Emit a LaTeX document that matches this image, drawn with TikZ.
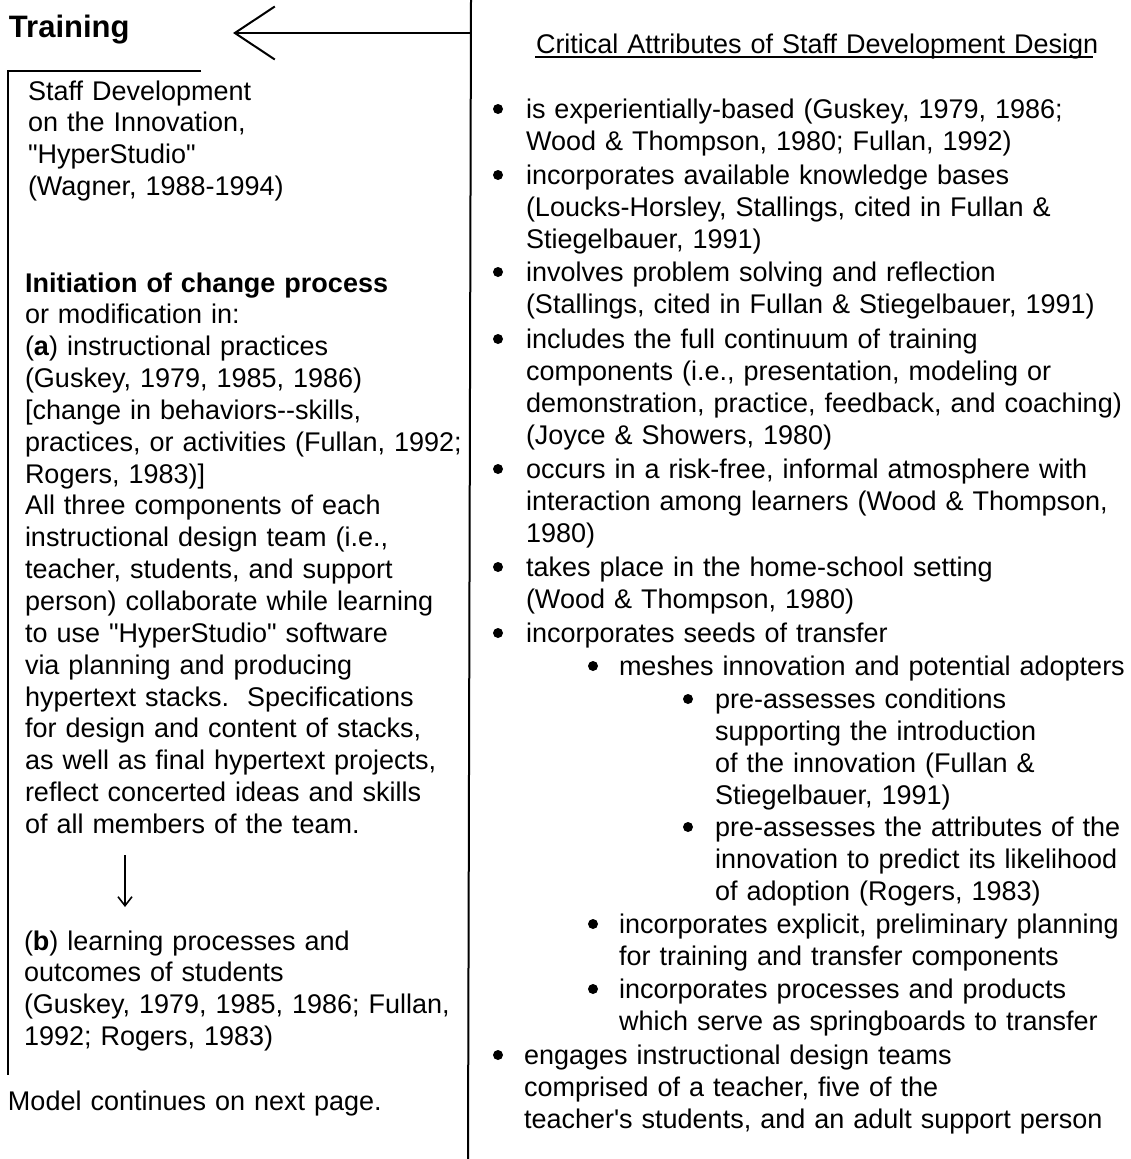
\documentclass[tikz,border=0pt]{standalone}
\usepackage{fontspec}
\setmainfont{Liberation Sans}[Ligatures=TeXOff]
\usetikzlibrary{arrows.meta}

\begin{document}
\begin{tikzpicture}[x=1pt,y=-1pt,line width=2pt,
  txt/.style={anchor=base west,inner sep=0pt,align=left,text width=440pt,font=\fontsize{27}{31.85}\selectfont},
  rtxt/.style={anchor=base west,inner sep=0pt,align=left,text width=640pt,font=\fontsize{27}{32.2}\selectfont},
  dot/.style={circle,fill=black,draw=none,inner sep=0pt,minimum size=10pt,yshift=9pt}]
  \useasboundingbox (0,0) rectangle (1131,1159);

  % frame lines
  \coordinate (top) at (471,0);
  \coordinate (bottom) at (468,1159);
  \draw (top) -- (bottom);
  \draw (201,71) -- (8,71) -- (8,1075);

  % left column
  \node[anchor=base west,inner sep=0pt,font=\bfseries\fontsize{31}{36}\selectfont] (training) at (8,37) {Training};
  \coordinate (split) at (471,33);
  \coordinate (tip) at (233,33);
  \draw[-{Straight Barb[length=40pt,width=53pt]}] (split) -- (tip);

  \node[txt] (sd) at (27,100) {Staff Development\\on the Innovation,\\"HyperStudio"\\(Wagner, 1988-1994)};
  \node[txt] (init) at (24,292) {\textbf{Initiation of change process}\\
    or modification in:\\
    (\textbf{a}) instructional practices\\
    (Guskey, 1979, 1985, 1986)\\
    {[}change in behaviors--skills,\\
    practices, or activities (Fullan, 1992;\\
    Rogers, 1983)]\\
    All three components of each\\
    instructional design team (i.e.,\\
    teacher, students, and support\\
    person) collaborate while learning\\
    to use "HyperStudio" software\\
    via planning and producing\\
    hypertext stacks.\ \ Specifications\\
    for design and content of stacks,\\
    as well as final hypertext projects,\\
    reflect concerted ideas and skills\\
    of all members of the team.};
  \coordinate (d1) at (125,855);
  \coordinate (d2) at (125,907);
  \draw[line width=1.6pt,-{Straight Barb[length=9pt,width=14pt]}] (d1) -- (d2);
  \node[txt] (outcomes) at (23,950) {(\textbf{b}) learning processes and\\
    outcomes of students\\
    (Guskey, 1979, 1985, 1986; Fullan,\\
    1992; Rogers, 1983)};
  \node[txt] (next) at (7,1110) {Model continues on next page.};

  % right column
  \node[rtxt] (title) at (535,53) {Critical Attributes of Staff Development Design};
  \draw[line width=1.5pt] ([yshift=-4pt]title.base west) -- ++(558,0);

  \node[dot] (b1) at (498,118) {};
  \node[rtxt] (a1) at (525,118) {is experientially-based (Guskey, 1979, 1986;\\
    Wood \& Thompson, 1980; Fullan, 1992)};
  \node[dot] (b2) at (498,184) {};
  \node[rtxt] (a2) at (525,184) {incorporates available knowledge bases\\
    (Loucks-Horsley, Stallings, cited in Fullan \&\\
    Stiegelbauer, 1991)};
  \node[dot] (b3) at (498,281) {};
  \node[rtxt] (a3) at (525,281) {involves problem solving and reflection\\
    (Stallings, cited in Fullan \& Stiegelbauer, 1991)};
  \node[dot] (b4) at (498,348) {};
  \node[rtxt] (a4) at (525,348) {includes the full continuum of training\\
    components (i.e., presentation, modeling or\\
    demonstration, practice, feedback, and coaching)\\
    (Joyce \& Showers, 1980)};
  \node[dot] (b5) at (498,478) {};
  \node[rtxt] (a5) at (525,478) {occurs in a risk-free, informal atmosphere with\\
    interaction among learners (Wood \& Thompson,\\
    1980)};
  \node[dot] (b6) at (498,576) {};
  \node[rtxt] (a6) at (525,576) {takes place in the home-school setting\\
    (Wood \& Thompson, 1980)};
  \node[dot] (b7) at (498,642) {};
  \node[rtxt] (a7) at (525,642) {incorporates seeds of transfer};

  \node[dot] (s1) at (593,675) {};
  \node[rtxt] (m1) at (618,675) {meshes innovation and potential adopters};
  \node[dot] (ss1) at (688,708) {};
  \node[rtxt] (p1) at (714,708) {pre-assesses conditions\\
    supporting the introduction\\
    of the innovation (Fullan \&\\
    Stiegelbauer, 1991)};
  \node[dot] (ss2) at (688,836) {};
  \node[rtxt] (p2) at (714,836) {pre-assesses the attributes of the\\
    innovation to predict its likelihood\\
    of adoption (Rogers, 1983)};
  \node[dot] (s2) at (593,933) {};
  \node[rtxt] (m2) at (618,933) {incorporates explicit, preliminary planning\\
    for training and transfer components};
  \node[dot] (s3) at (593,998) {};
  \node[rtxt] (m3) at (618,998) {incorporates processes and products\\
    which serve as springboards to transfer};

  \node[dot] (b8) at (498,1064) {};
  \node[rtxt] (a8) at (523,1064) {engages instructional design teams\\
    comprised of a teacher, five of the\\
    teacher's students, and an adult support person};
\end{tikzpicture}
\end{document}
